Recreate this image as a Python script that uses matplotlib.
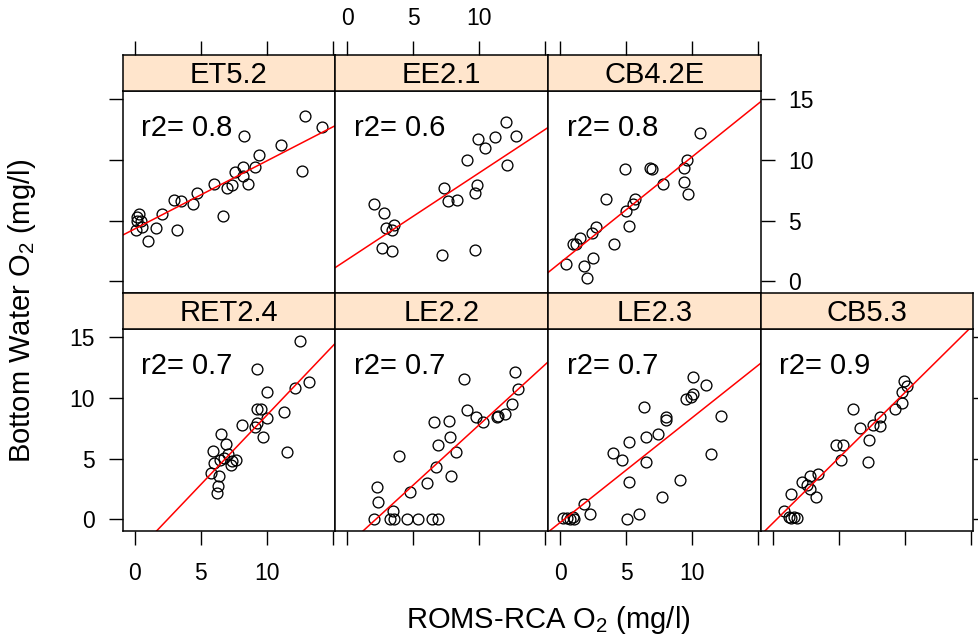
import matplotlib
matplotlib.use("Agg")
import matplotlib.pyplot as plt
import numpy as np

plt.rcParams['font.family'] = ['Liberation Sans', 'DejaVu Sans']
plt.rcParams['mathtext.fontset'] = 'custom'
plt.rcParams['mathtext.rm'] = 'Liberation Sans'
plt.rcParams['mathtext.it'] = 'Liberation Sans:italic'

# ---- station data: model O2 (x) vs observed bottom water O2 (y), mg/l ----
stations = ["ET5.2", "EE2.1", "CB4.2E", "RET2.4", "LE2.2", "LE2.3", "CB5.3"]

et52_x = [12.9, 14.2, 8.3, 11.1, 9.4, 8.2, 9.1, 7.6, 8.2, 8.6, 12.7, 6.0, 7.0, 7.4, 4.7,
          4.4, 3.0, 3.5, 6.7, 2.1, 1.6, 3.2, 1.0, 0.35, 0.15, 0.1, 0.55, 0.2, 0.45]
et52_y = [13.6, 12.7, 12.0, 11.2, 10.4, 9.4, 9.4, 9.0, 8.7, 8.0, 9.1, 8.0, 7.7, 7.9, 7.3,
          6.4, 6.7, 6.6, 5.4, 5.5, 4.4, 4.2, 3.3, 5.5, 5.0, 4.2, 4.5, 5.3, 5.0]

ee21_x = [12.0, 12.8, 11.2, 9.9, 10.4, 9.1, 12.1, 7.3, 9.85, 9.7, 7.6, 8.3, 2.0, 2.8,
          2.9, 3.55, 3.4, 2.6, 3.4, 7.2, 9.7]
ee21_y = [13.1, 12.0, 11.9, 11.7, 11.0, 10.0, 9.6, 7.7, 7.9, 7.3, 6.6, 6.7, 6.4, 5.6,
          4.4, 4.6, 4.2, 2.75, 2.5, 2.2, 2.55]

cb42e_x = [10.6, 4.9, 6.8, 7.0, 9.6, 9.4, 7.8, 9.4, 9.7, 3.5, 5.7, 5.5, 5.0, 5.2, 2.7,
           2.4, 1.55, 0.97, 1.2, 4.1, 2.5, 1.8, 0.45, 2.05]
cb42e_y = [12.2, 9.25, 9.35, 9.25, 10.0, 9.35, 8.05, 8.2, 7.15, 6.8, 6.8, 6.4, 5.75, 4.55,
           4.5, 3.95, 3.55, 3.05, 3.1, 3.05, 1.95, 1.25, 1.4, 0.3]

ret24_x = [12.5, 9.3, 13.2, 12.15, 10.0, 9.3, 9.6, 11.3, 10.05, 9.3, 9.15, 9.7, 8.1, 11.55,
           6.55, 6.95, 5.95, 6.0, 6.5, 7.35, 7.7, 7.3, 5.8, 6.35, 6.3, 6.25, 7.1, 6.75]
ret24_y = [14.7, 12.4, 11.3, 10.8, 10.5, 9.05, 9.05, 8.85, 8.35, 7.95, 7.6, 6.75, 7.8, 5.55,
           7.05, 6.2, 5.6, 4.65, 4.9, 4.8, 4.85, 4.45, 3.8, 3.55, 2.7, 2.15, 5.35, 5.05]

le22_x = [12.7, 8.8, 12.9, 9.05, 9.75, 10.3, 12.45, 11.95, 11.3, 11.45, 6.55, 7.7, 7.75,
          6.9, 8.2, 3.95, 6.75, 7.85, 6.0, 4.75, 2.25, 2.3, 3.45, 2.05, 3.2, 3.55, 4.55,
          5.35, 6.4, 6.85]
le22_y = [12.15, 11.55, 10.75, 9.0, 8.45, 8.05, 9.5, 8.65, 8.45, 8.5, 8.05, 8.1, 6.75,
          6.15, 5.55, 5.25, 4.3, 3.6, 2.95, 2.25, 2.65, 1.45, 0.7, 0.0, 0.0, 0.05, 0.05,
          0.05, 0.0, 0.05]

le23_x = [10.05, 11.05, 10.05, 9.9, 9.55, 12.2, 6.35, 8.0, 8.0, 7.4, 6.55, 5.25, 4.0, 4.7,
          6.55, 11.4, 9.1, 5.25, 7.75, 1.8, 2.25, 5.05, 6.0, 0.25, 0.5, 0.75, 0.95, 1.05]
le23_y = [11.75, 11.05, 10.35, 10.1, 9.9, 8.5, 9.25, 8.4, 8.15, 7.05, 6.75, 6.4, 5.45, 4.85,
          4.7, 5.35, 3.2, 3.05, 1.8, 1.25, 0.4, 0.05, 0.4, 0.1, 0.1, 0.0, 0.15, 0.0]

cb53_x = [9.95, 10.15, 9.8, 9.8, 9.25, 6.05, 8.15, 7.6, 8.15, 6.6, 7.3, 4.8, 5.35, 7.25,
          5.2, 3.4, 2.8, 2.2, 2.6, 2.8, 3.25, 1.4, 0.85, 1.2, 1.4, 1.85, 1.6]
cb53_y = [11.35, 11.0, 10.45, 9.6, 9.05, 9.05, 8.45, 7.75, 7.7, 7.55, 6.55, 6.15, 6.15, 4.7,
          4.85, 3.75, 3.55, 3.05, 2.85, 2.5, 1.8, 2.1, 0.7, 0.2, 0.1, 0.1, 0.15]

# linear fits (intercept, slope) and r-squared for each station
fit_intercept = [4.31, 1.78, 1.51, -2.86, -2.15, -0.28, -0.33]
fit_slope = [0.56, 0.716, 0.874, 1.142, 0.994, 0.864, 1.075]
r2_values = [0.8, 0.6, 0.8, 0.7, 0.7, 0.7, 0.9]

xs = [et52_x, ee21_x, cb42e_x, ret24_x, le22_x, le23_x, cb53_x]
ys = [et52_y, ee21_y, cb42e_y, ret24_y, le22_y, le23_y, cb53_y]

tick_vals = [0, 5, 10, 15]
tick_labels = ["0", "5", "10", ""]
ytick_labels = ["0", "5", "10", "15"]

# ---- layout (pixel geometry of a 979 x 641 canvas) ----
W, H = 979, 641
fig = plt.figure(figsize=(W / 100, H / 100), dpi=100)

col_edges = [122.7, 335.3, 548.0, 760.7, 973.3]
rows = [  # (strip top, panel top, panel bottom)
    (55.3, 90.7, 293.0),
    (293.0, 328.7, 531.0),
]
XLIM = (-0.91, 15.2)
YLIM = (-0.97, 15.7)
STRIP_COLOR = "#FFE5CC"
LW_FRAME = 1.1
TICK_KW = dict(direction="out", length=10, width=1.0, labelsize=16.5, pad=10)

# panel order: top row has 3 stations, bottom row has 4
positions = [(0, 0), (0, 1), (0, 2), (1, 0), (1, 1), (1, 2), (1, 3)]


def fig_rect(x0, x1, ytop, ybot):
    return [x0 / W, 1 - ybot / H, (x1 - x0) / W, (ybot - ytop) / H]


for i, name in enumerate(stations):
    r, c = positions[i]
    stop, ptop, pbot = rows[r]
    x0, x1 = col_edges[c], col_edges[c + 1]

    ax = fig.add_axes(fig_rect(x0, x1, ptop, pbot))
    ax.set_xlim(*XLIM)
    ax.set_ylim(*YLIM)
    ax.plot(xs[i], ys[i], linestyle="none", marker="o", markersize=7.8,
            markerfacecolor="none", markeredgecolor="black", markeredgewidth=0.95)
    xx = np.array(XLIM)
    ax.plot(xx, fit_intercept[i] + fit_slope[i] * xx, color="#FF0000", lw=1.1)
    ax.text(0.5, 12.0, f"r2= {r2_values[i]}", fontsize=21, ha="left", va="baseline")
    for s in ax.spines.values():
        s.set_linewidth(LW_FRAME)

    ax.set_xticks(tick_vals)
    ax.set_yticks(tick_vals)
    ax.tick_params(axis="both", **TICK_KW)
    ax.tick_params(axis="x", pad=12)

    # x axis: bottom ticks only on the lower row, labels alternate by column
    if r == 1:
        ax.tick_params(axis="x", bottom=True, top=False,
                       labelbottom=(c % 2 == 0), labeltop=False)
        ax.set_xticklabels(tick_labels)
    else:
        ax.tick_params(axis="x", bottom=False, top=False,
                       labelbottom=False, labeltop=False)

    # y axis: left ticks on first column, right ticks on last panel of each row
    last_col = (c == 2 and r == 0) or (c == 3 and r == 1)
    ax.tick_params(axis="y", left=(c == 0), right=last_col,
                   labelleft=(c == 0 and r == 1),
                   labelright=(last_col and r == 0))
    ax.set_yticklabels(ytick_labels)

    # strip with station name
    sax = fig.add_axes(fig_rect(x0, x1, stop, ptop))
    sax.set_facecolor(STRIP_COLOR)
    sax.set_xlim(*XLIM)
    sax.set_ylim(0, 1)
    sax.set_yticks([])
    for s in sax.spines.values():
        s.set_linewidth(LW_FRAME)
    sax.text(0.5, 0.45, name, transform=sax.transAxes, fontsize=21,
             ha="center", va="center")
    if r == 0:
        sax.set_xticks(tick_vals)
        sax.set_xticklabels(tick_labels)
        sax.tick_params(axis="x", **TICK_KW)
        sax.tick_params(axis="x", pad=8, bottom=False, top=True, labelbottom=False,
                        labeltop=(c == 1))
    else:
        sax.set_xticks([])

# axis titles
fig.text(548 / W, 1 - 620 / H, r"ROMS-RCA O$_\mathregular{2}$ (mg/l)",
         fontsize=21, ha="center", va="center")
fig.text(22 / W, 1 - 311 / H, r"Bottom Water O$_\mathregular{2}$ (mg/l)",
         fontsize=21, ha="center", va="center", rotation=90)

fig.savefig("out.png", dpi=100)
